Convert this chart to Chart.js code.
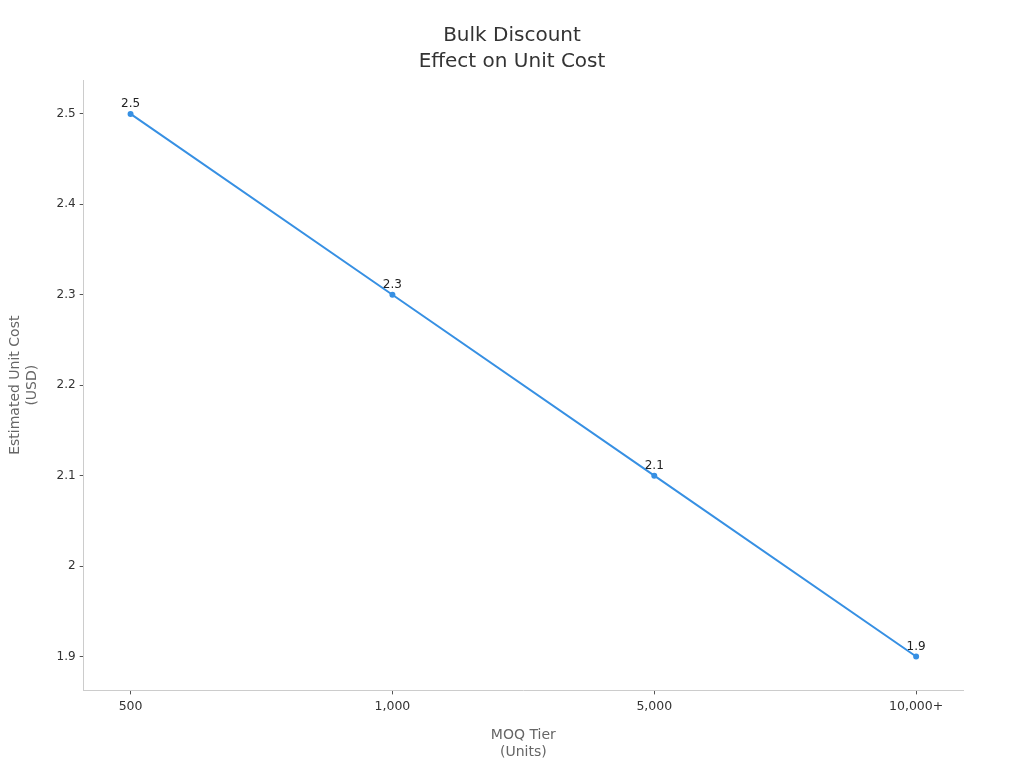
<!DOCTYPE html>
<html>
<head>
<meta charset="utf-8">
<script src="https://cdn.jsdelivr.net/npm/chart.js@4/dist/chart.umd.min.js"></script>
<style>
html,body{margin:0;padding:0;background:#fff;}
#wrap{width:1024px;height:768px;}
</style>
</head>
<body>
<div id="wrap"><canvas id="c" width="1024" height="768"></canvas></div>
<script>
const categories = ['500', '1,000', '5,000', '10,000+'];
const unitCost = [2.5, 2.3, 2.1, 1.9];
const yTicks = [1.9, 2.0, 2.1, 2.2, 2.3, 2.4, 2.5];
const titleLines = ['Bulk Discount', 'Effect on Unit Cost'];

const FONT = "'DejaVu Sans', sans-serif";

const labelPlugin = {
  id: 'pointLabels',
  afterDatasetsDraw(chart) {
    const ctx = chart.ctx;
    const meta = chart.getDatasetMeta(0);
    ctx.save();
    ctx.font = "12px " + FONT;
    ctx.fillStyle = '#222';
    ctx.textAlign = 'center';
    ctx.textBaseline = 'bottom';
    meta.data.forEach((pt, i) => {
      ctx.fillText(String(unitCost[i]), pt.x, pt.y - 4);
    });
    ctx.restore();
  }
};

const titlePlugin = {
  id: 'centerTitle',
  afterDraw(chart) {
    const ctx = chart.ctx;
    ctx.save();
    ctx.font = "20px " + FONT;
    ctx.fillStyle = '#333';
    ctx.textAlign = 'center';
    ctx.textBaseline = 'middle';
    titleLines.forEach((t, i) => ctx.fillText(t, chart.width / 2, 36 + i * 26));
    ctx.restore();
  }
};

new Chart(document.getElementById('c'), {
  type: 'line',
  data: {
    datasets: [{
      data: unitCost.map((v, i) => ({x: i, y: v})),
      borderColor: '#3790e3',
      backgroundColor: '#3790e3',
      borderWidth: 2,
      pointRadius: 2,
      pointHoverRadius: 2,
      tension: 0
    }]
  },
  options: {
    responsive: false,
    animation: false,
    devicePixelRatio: 1,
    layout: {padding: {left: 3, right: 61, top: 80, bottom: 3}},
    plugins: {
      legend: {display: false},
      tooltip: {enabled: false},
      title: {display: false}
    },
    scales: {
      x: {
        type: 'linear',
        min: -0.179,
        max: 3.179,
        afterBuildTicks(scale) { scale.ticks = categories.map((c, i) => ({value: i})); },
        ticks: {
          callback: (v) => categories[v],
          font: {family: FONT, size: 12.5},
          color: '#333',
          padding: 5
        },
        grid: {display: true, drawOnChartArea: false, tickLength: 4, color: '#555'},
        border: {display: true, color: '#ccc'},
        title: {
          display: true,
          text: ['MOQ Tier', '(Units)'],
          font: {family: FONT, size: 14},
          color: '#666',
          padding: {top: 8}
        }
      },
      y: {
        type: 'linear',
        min: 1.8625,
        max: 2.5375,
        afterBuildTicks(scale) { scale.ticks = yTicks.map(v => ({value: v})); },
        ticks: {
          callback: (v) => String(Math.round(v * 10) / 10),
          font: {family: FONT, size: 12},
          color: '#333',
          padding: 4
        },
        grid: {display: true, drawOnChartArea: false, tickLength: 4, color: '#555'},
        border: {display: true, color: '#ccc'},
        title: {
          display: true,
          text: ['Estimated Unit Cost', '(USD)'],
          font: {family: FONT, size: 14},
          color: '#666',
          padding: {bottom: 12}
        }
      }
    }
  },
  plugins: [labelPlugin, titlePlugin]
});
</script>
</body>
</html>
